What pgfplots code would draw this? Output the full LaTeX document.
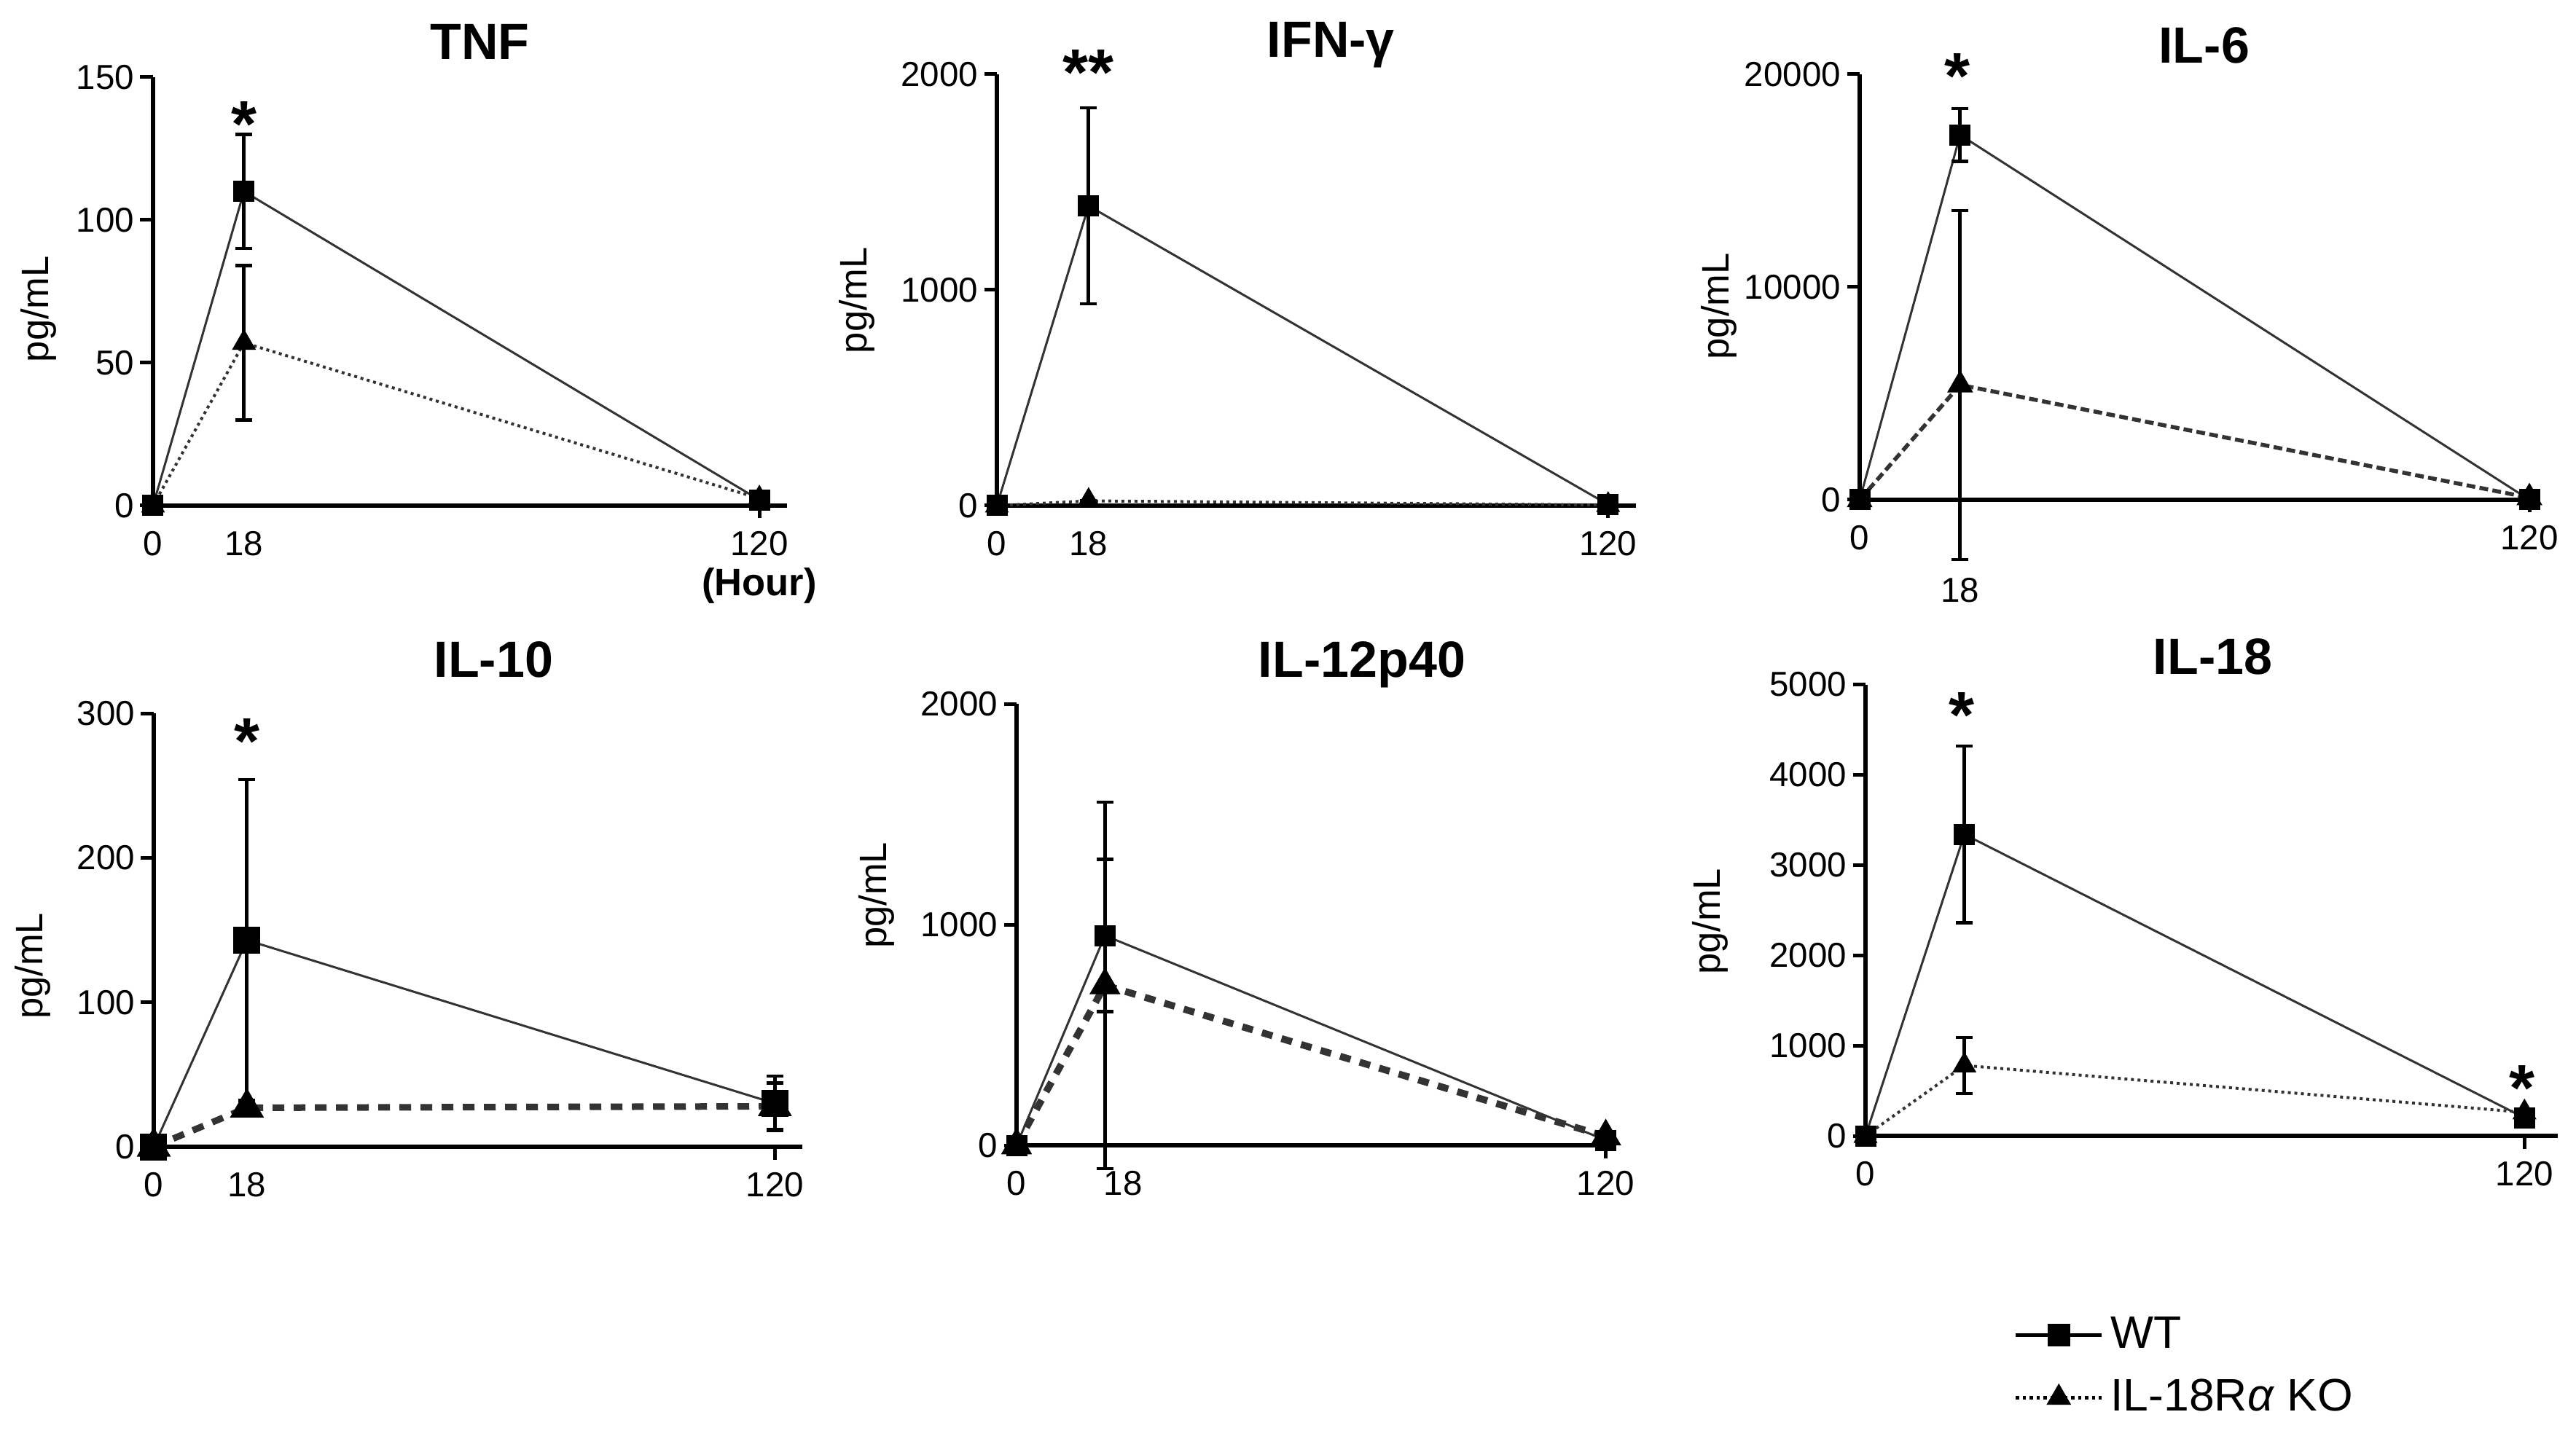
\documentclass[border=0pt]{standalone}
\usepackage{fontspec}
\setmainfont{Liberation Sans}
\usepackage{pgfplots}
\pgfplotsset{compat=1.18}
\pgfplotsset{
  panel/.style={
    scale only axis, axis lines=left, axis line style={-, line width=1.1pt, black},
    xmin=0, ymin=0, clip=false, enlargelimits=false,
    tick align=outside, major tick length=3.5pt,
    tick style={line width=1pt, black},
    tick label style={font=\fontsize{9.5}{11}\selectfont},
    yticklabel style={inner xsep=1.5pt},
    scaled y ticks=false,
    xtick={120}, xticklabels={120},
    extra x tick style={grid=none, major tick style={draw=none}},
    ylabel={pg/mL},
    every axis y label/.style={rotate=90, anchor=center, font=\fontsize{10.5}{12}\selectfont},
    every axis title shift=0pt,
    title style={anchor=base, yshift=0pt, font=\fontsize{14}{16}\selectfont\bfseries},
    /pgf/number format/1000 sep={}, /pgf/number format/assume math mode=true,
  },
  ebars/.style={
    error bars/y dir=both, error bars/y explicit,
    error bars/error bar style={line width=1pt, black, solid},
    error bars/error mark options={rotate=90, mark size=2.3pt, line width=0.9pt, black, solid}},
  wt/.style={black!80, line width=0.6pt, mark=square*, mark size=2.6pt,
    mark options={solid, fill=black, draw=black}, ebars},
  ko/.style={black!80, mark=triangle*, mark size=3pt,
    mark options={solid, fill=black, draw=black}, ebars},
}
\tikzset{star/.style={anchor=north, inner sep=0pt, font=\fontsize{18}{18}\selectfont\bfseries}}
\begin{document}
\begin{tikzpicture}
\useasboundingbox (0,0) rectangle (707pt,394pt);

% ---------------- TNF
\begin{axis}[panel, at={(42pt,255.2pt)}, anchor=south west,
  width=173.9pt, height=117.6pt, xmax=125.4, ymax=150, ytick={0,50,100,150},
  extra x ticks={0,18}, extra x tick labels={0,18},
  title={TNF}, title style={at={(0.516,1.042)}},
  ylabel style={at={(axis description cs:-0.181,0.459)}}]
\addplot[ko, densely dotted, line width=0.8pt] coordinates {(0,0) +- (0,0) (18,57) +- (0,27) (120,2.5) +- (0,0)};
\addplot[wt] coordinates {(0,0) +- (0,0) (18,110) +- (0,20) (120,2) +- (0,0)};
\node[star] at (axis cs:18,141.6) {*};
\node[font=\fontsize{10.5}{12}\selectfont\bfseries, yshift=-22pt] at (axis cs:120,0) {(Hour)};
\end{axis}

% ---------------- IFN-gamma
\begin{axis}[panel, at={(273.6pt,255.2pt)}, anchor=south west,
  width=175.3pt, height=118.4pt, xmax=125.4, ymax=2000, ytick={0,1000,2000},
  extra x ticks={0,18}, extra x tick labels={0,18},
  title={IFN-γ}, title style={at={(0.523,1.039)}},
  ylabel style={at={(axis description cs:-0.219,0.476)}}]
\addplot[ko, densely dotted, line width=0.8pt] coordinates {(0,0) +- (0,0) (18,22) +- (0,0) (120,3) +- (0,0)};
\addplot[wt] coordinates {(0,0) +- (0,0) (18,1390) +- (0,455) (120,5) +- (0,0)};
\node[star] at (axis cs:18,2115) {**};
\end{axis}

% ---------------- IL-6
\begin{axis}[panel, at={(510.4pt,256.8pt)}, anchor=south west,
  width=186.1pt, height=116.8pt, xmax=121.5, ymax=20000, ytick={0,10000,20000},
  extra x ticks={0}, extra x tick labels={0},
  title={IL-6}, title style={at={(0.508,1.026)}},
  ylabel style={at={(axis description cs:-0.207,0.455)}}]
\addplot[ko, dash pattern=on 2.4pt off 1.2pt, line width=1.1pt] coordinates {(0,0) +- (0,0) (18,5400) +- (0,8200) (120,100) +- (0,0)};
\addplot[wt] coordinates {(0,0) +- (0,0) (18,17150) +- (0,1240) (120,0) +- (0,0)};
\node[star] at (axis cs:17.5,20993) {*};
\node[font=\fontsize{9.5}{11}\selectfont, yshift=-24.8pt] at (axis cs:18,0) {18};
\end{axis}

% ---------------- IL-10
\begin{axis}[panel, at={(42.2pt,79.2pt)}, anchor=south west,
  width=178pt, height=119pt, xmax=125.3, ymax=300, ytick={0,100,200,300},
  extra x ticks={0,18}, extra x tick labels={0,18},
  title={IL-10}, title style={at={(0.524,1.084)}},
  ylabel style={at={(axis description cs:-0.187,0.417)}}]
\addplot[ko, mark size=3.6pt, dash pattern=on 3.2pt off 2.6pt, line width=1.8pt] coordinates {(0,0) +- (0,0) (18,27) +- (0,5) (120,28) +- (0,16)};
\addplot[wt, mark size=3.4pt] coordinates {(0,0) +- (0,0) (18,143) +- (0,111) (120,30) +- (0,19)};
\node[star] at (axis cs:18,296.5) {*};
\end{axis}

% ---------------- IL-12p40
\begin{axis}[panel, at={(279pt,79.6pt)}, anchor=south west,
  width=164pt, height=121.2pt, xmax=121.7, ymax=2000, ytick={0,1000,2000},
  extra x ticks={0,21.7}, extra x tick labels={0,18},
  title={IL-12p40}, title style={at={(0.578,1.061)}},
  ylabel style={at={(axis description cs:-0.234,0.566)}}]
\addplot[ko, dash pattern=on 3pt off 2.6pt, line width=1.9pt] coordinates {(0,0) +- (0,0) (18,725) +- (0,830) (120,40) +- (0,0)};
\addplot[wt] coordinates {(0,0) +- (0,0) (18,950) +- (0,345) (120,23) +- (0,0)};
\end{axis}

% ---------------- IL-18
\begin{axis}[panel, at={(512pt,82.2pt)}, anchor=south west,
  width=189.9pt, height=123.9pt, xmax=126, ymax=5000, ytick={0,1000,2000,3000,4000,5000},
  extra x ticks={0}, extra x tick labels={0},
  title={IL-18}, title style={at={(0.502,1.023)}},
  ylabel style={at={(axis description cs:-0.224,0.475)}},
  legend style={at={(axis description cs:0.2138,-0.383)}, anchor=north west, inner sep=0pt,
    draw=none, fill=none, row sep=3pt, font=\fontsize{12.5}{14}\selectfont},
  legend cell align=left,
  legend image code/.code={\draw[mark repeat=2,mark phase=2,#1] plot coordinates {(0pt,0pt)(11.8pt,0pt)(23.6pt,0pt)};}]
\addlegendimage{black, line width=0.9pt, mark=square*, mark size=2.6pt, mark options={solid, fill=black}}
\addlegendimage{black, densely dotted, line width=0.9pt, mark=triangle*, mark size=3pt, mark options={solid, fill=black}}
\legend{WT, IL-18R\textit{α} KO}
\addplot[ko, densely dotted, line width=0.8pt, forget plot] coordinates {(0,0) +- (0,0) (18,780) +- (0,310) (120,260) +- (0,0)};
\addplot[wt, forget plot] coordinates {(0,0) +- (0,0) (18,3340) +- (0,980) (120,200) +- (0,0)};
\node[star] at (axis cs:17.5,4915) {*};
\node[star] at (axis cs:119.5,783) {*};
\end{axis}
\end{tikzpicture}
\end{document}
